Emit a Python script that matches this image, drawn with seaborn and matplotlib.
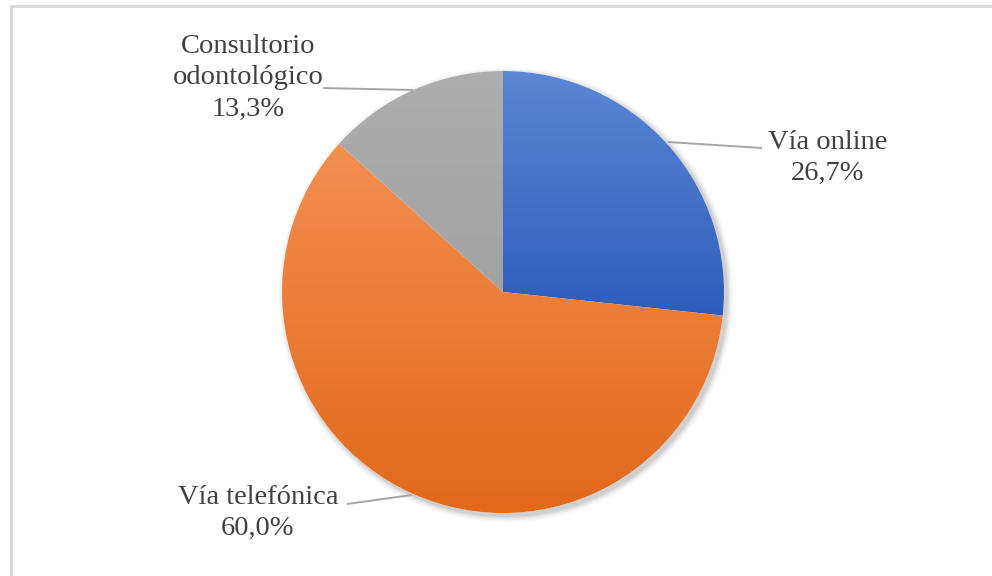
import numpy as np
import matplotlib
matplotlib.use("Agg")
import matplotlib.pyplot as plt
import seaborn as sns
from matplotlib.patches import Circle
from matplotlib.colors import LinearSegmentedColormap

# Canales de solicitud de cita
categories = ["Vía online", "Vía telefónica", "Consultorio\nodontológico"]
shares = [26.7, 60.0, 13.3]
value_labels = ["26,7%", "60,0%", "13,3%"]

# Colores por sector (parte superior / inferior del degradado)
top_colors = ["#5B87D3", "#F38F52", "#AEAEAE"]
bottom_colors = ["#2D5DBC", "#E2681A", "#A2A2A2"]

sns.set_theme(style="white")
plt.rcParams["font.family"] = ["Liberation Serif", "DejaVu Serif"]

W, H = 992, 576
fig = plt.figure(figsize=(W / 100, H / 100), dpi=100)
ax = fig.add_axes([0, 0, 1, 1])
ax.set_xlim(0, W)
ax.set_ylim(0, H)
ax.set_axis_off()

cx, cy, R = 503, H - 292, 221

# Sombra suave bajo el gráfico
for i, a in enumerate(np.linspace(0.05, 0.012, 6)):
    ax.add_patch(Circle((cx + 3, cy - 3), R + 1 + i * 1.2, color="black",
                        alpha=a, lw=0, zorder=1))
ax.add_patch(Circle((cx, cy), R, color="white", lw=0, zorder=1.5))

wedges, _ = ax.pie(shares, startangle=90, counterclock=False, radius=R,
                   center=(cx, cy), frame=True,
                   wedgeprops=dict(linewidth=0))
ax.set_xlim(0, W)
ax.set_ylim(0, H)
ax.set_aspect("equal")
ax.set_axis_off()

# Relleno degradado vertical recortado a cada sector
for w, c0, c1 in zip(wedges, top_colors, bottom_colors):
    w.set_facecolor("none")
    ext = w.get_path().get_extents()
    cmap = LinearSegmentedColormap.from_list("g", [c1, c0])
    grad = np.linspace(0, 1, 256).reshape(-1, 1)
    im = ax.imshow(grad, cmap=cmap, origin="lower", aspect="auto",
                   extent=[ext.x0, ext.x1, ext.y0, ext.y1], zorder=2,
                   interpolation="bilinear")
    im.set_clip_path(w)
ax.set_xlim(0, W)
ax.set_ylim(0, H)

# Etiquetas con líneas guía
text_color = "#404040"
line_color = "#A6A6A6"
labels = [
    (categories[0] + "\n" + value_labels[0], (828, 158), [(668, 142), (762, 148)]),
    (categories[1] + "\n" + value_labels[1], (258, 513), [(347, 504), (412, 495)]),
    (categories[2] + "\n" + value_labels[2], (248, 78), [(323, 88), (413, 90)]),
]
for txt, (tx, ty), pts in labels:
    ax.text(tx, H - ty, txt, ha="center", va="center", fontsize=20.5,
            color=text_color, linespacing=1.32, zorder=5)
    xs = [p[0] for p in pts]
    ys = [H - p[1] for p in pts]
    ax.plot(xs, ys, color=line_color, lw=1.4, zorder=4,
            solid_capstyle="butt")

# Marco del área del gráfico
ax.plot([11, 11, W + 5], [-5, H - 6, H - 6], color="#D9D9D9", lw=2,
        zorder=6, clip_on=False)

fig.savefig("out.png", dpi=100)
